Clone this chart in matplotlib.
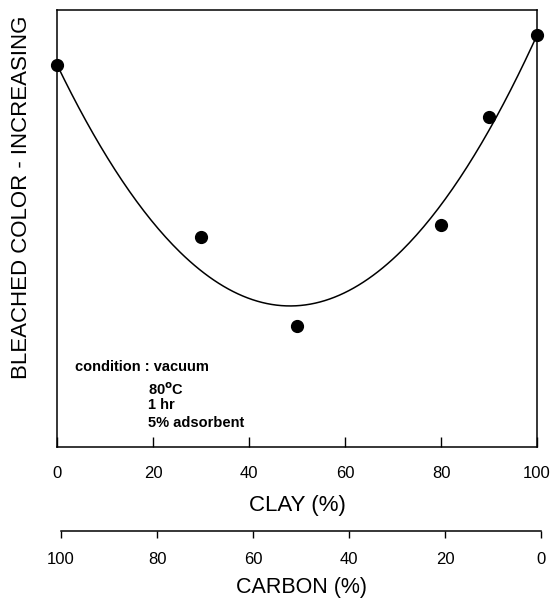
import numpy as np
import matplotlib.pyplot as plt

plt.rcParams['font.family'] = ['Liberation Sans', 'DejaVu Sans']

# clay content (%) and relative bleached colour
clay = [0, 30, 50, 80, 90, 100]
color = [87.4, 48.1, 27.7, 50.8, 75.5, 94.3]
carbon_ticks = [100, 80, 60, 40, 20, 0]

fig = plt.figure(figsize=(5.55, 6), dpi=100)
ax = fig.add_axes([0.1027, 0.255, 0.865, 0.7283])

# quadratic fit, pinned to the pure clay / pure carbon ends
coef = np.polyfit(clay, color, 2, w=[5, 1, 1, 1, 1, 5])
xs = np.linspace(0, 100, 200)
ax.plot(xs, np.polyval(coef, xs), color='black', lw=1.1)
ax.plot(clay, color, 'o', color='black', markersize=8.5, clip_on=False)

ax.set_xlim(0, 100)
ax.set_ylim(0, 100)
ax.set_xticks([0, 20, 40, 60, 80, 100])
ax.set_yticks([])
ax.tick_params(axis='x', direction='in', length=7, width=1, pad=14, labelsize=12)
for s in ax.spines.values():
    s.set_linewidth(1.1)
ax.set_xlabel('CLAY (%)', fontsize=16, labelpad=10)
ax.set_ylabel('BLEACHED COLOR - INCREASING', fontsize=16)
ax.yaxis.set_label_coords(-0.052, 0.571)

ax.text(3.75, 18.3, 'condition : vacuum', fontsize=10.5, fontweight='bold', va='center')
ax.text(19, 13.0, '80$^{\\mathbf{o}}$C', fontsize=10.5, fontweight='bold', va='center')
ax.text(19, 9.6, '1 hr', fontsize=10.5, fontweight='bold', va='center')
ax.text(19, 5.5, '5% adsorbent', fontsize=10.5, fontweight='bold', va='center')

# second scale for carbon content
ax2 = fig.add_axes([0.110, 0.115, 0.865, 0.001])
ax2.set_xlim(100, 0)
ax2.set_yticks([])
ax2.set_xticks(carbon_ticks)
for side in ['top', 'left', 'right']:
    ax2.spines[side].set_visible(False)
ax2.spines['bottom'].set_linewidth(1.1)
ax2.tick_params(axis='x', direction='out', length=5, width=1, pad=10, labelsize=12)
ax2.set_xlabel('CARBON (%)', fontsize=15.5, labelpad=7.5)

fig.savefig('out.png', dpi=100)
